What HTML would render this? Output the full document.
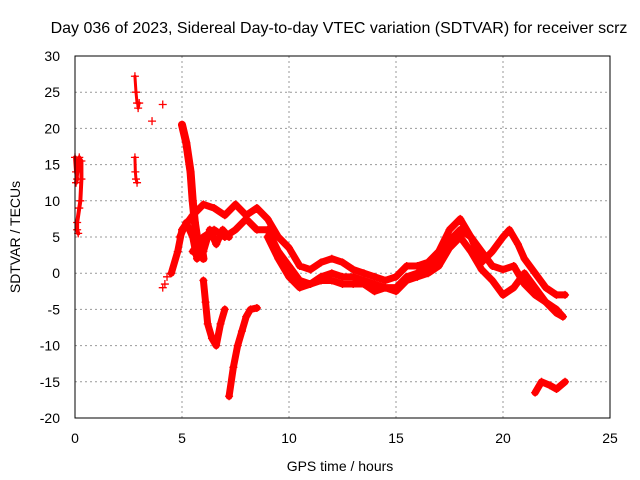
<!DOCTYPE html>
<html><head><meta charset="utf-8"><style>
body{margin:0;background:#fff;}
svg{display:block;font-family:"Liberation Sans",sans-serif;}
</style></head><body>
<svg id="chart" width="640" height="480">
<text x="339" y="33" text-anchor="middle" font-size="16">Day 036 of 2023, Sidereal Day-to-day VTEC variation (SDTVAR) for receiver scrz</text>
<text x="340" y="471" text-anchor="middle" font-size="14">GPS time / hours</text>
<text x="20" y="237" text-anchor="middle" font-size="14" transform="rotate(-90 20 237)">SDTVAR / TECUs</text>
<g id="grid"></g><g id="ticks"></g><g id="marks"></g>
<rect x="75" y="56" width="535" height="362" fill="none" stroke="#000"/>
</svg>
<script>
const xTicks=[0,5,10,15,20,25];
const yTicks=[30,25,20,15,10,5,0,-5,-10,-15,-20];
const clusterA=[[0,16],[0.05,14],[0.1,13],[0.05,12.5],[0.15,15],[0.2,16],[0.3,15.5],[0.3,13],[0.25,10],[0.2,9],[0.1,7],[0.1,6],[0.15,5.5]];
const clusterB=[[2.8,27.2],[2.85,25],[2.9,23.5],[3.0,23.5],[2.95,22.8]];
const clusterC=[[2.8,16],[2.82,14],[2.85,13],[2.9,12.5]];
const singles=[[3.6,21],[4.1,23.3],[4.1,-2],[4.2,-1.5],[4.3,-0.5]];
const band1=[[4.5,0],[4.8,3],[5,6],[5.5,8],[6,9.5],[6.5,9],[7,8],[7.5,9.5],[8,8],[8.5,9],[9,7.5],[9.5,5],[10,3.5],[10.5,1],[11,0.5],[11.5,1.5],[12,2],[12.5,1.5],[13,0.5],[13.5,0],[14,-0.5],[14.5,-1],[15,-0.5],[15.5,1],[16,1],[16.5,1.5],[17,3],[17.5,6],[18,7.5],[18.5,5],[19,1.5],[19.5,3],[20,5],[20.3,6],[20.7,4],[21,2],[21.5,0],[22,-2],[22.5,-3],[22.9,-3]];
const band2=[[5.5,3],[6,5],[6.5,6],[7,5],[7.5,6],[8,7.5],[8.5,6],[9,6],[9.5,3],[10,1],[10.5,-1],[11,-1.5],[11.5,-0.5],[12,0],[12.5,-0.5],[13,-0.5],[13.5,-1],[14,-1.5],[14.5,-2],[15,-2],[15.5,-0.5],[16,0],[16.5,1],[17,2],[17.5,4.5],[18,6],[18.5,5],[19,3],[19.5,1],[20,0.5],[20.5,1],[21,-1.5],[21.5,-3],[22,-4],[22.5,-5.5],[22.8,-6]];
const band3=[[9,5],[9.5,2],[10,-0.5],[10.5,-2],[11,-1.5],[11.5,-1],[12,-1],[12.5,-1.5],[13,-1.5],[13.5,-1.5],[14,-2.5],[14.5,-2],[15,-2.5],[15.5,-1],[16,-0.5],[16.5,0],[17,1],[17.5,3.5],[18,5],[18.5,3],[19,0.5],[19.5,-1],[20,-3],[20.5,-2],[21,0],[21.5,-2],[22,-4],[22.5,-5],[22.8,-6]];
const spike=[[5,20.5],[5.2,18],[5.4,14],[5.5,10],[5.6,7],[5.7,5],[5.8,3],[5.9,4],[6,2]];
const blob=[[4.9,5],[5.2,7],[5.5,5],[5.7,2],[6,3],[6.3,6],[6.6,4],[6.9,6],[7.2,5]];
const dip1=[[6,-1],[6.1,-4],[6.2,-7],[6.4,-9],[6.6,-10],[6.8,-7],[7,-5]];
const dip2=[[7.2,-17],[7.4,-13],[7.6,-10],[7.8,-8],[8,-6],[8.2,-5],[8.5,-4.8]];
const late=[[21.5,-16.5],[21.8,-15],[22.2,-15.5],[22.5,-16],[22.9,-15]];
const NS="http://www.w3.org/2000/svg";
const X=h=>75+h*535/25, Y=v=>56+(30-v)*362/50;
function mk(t,a,parent){const e=document.createElementNS(NS,t);for(const k in a)e.setAttribute(k,a[k]);parent.appendChild(e);return e;}
const grid=document.getElementById('grid'),ticks=document.getElementById('ticks'),marks=document.getElementById('marks');
xTicks.forEach(t=>{
 if(t>0&&t<25){const l=mk('line',{x1:X(t),x2:X(t),y1:56,y2:418,stroke:'#999','stroke-dasharray':'2,3'},grid);
 
 }
 const tx=mk('text',{x:X(t),y:443,'text-anchor':'middle','font-size':14},ticks);tx.textContent=t;
 
 
});
yTicks.forEach(t=>{
 if(t>-20&&t<30){const l=mk('line',{x1:75,x2:610,y1:Y(t),y2:Y(t),stroke:'#999','stroke-dasharray':'2,3'},grid);
 
 }
 const tx=mk('text',{x:60,y:Y(t)+5,'text-anchor':'end','font-size':14},ticks);tx.textContent=t;
 
 
});
function track(pts,name,w){
 if(w){const p=mk('polyline',{points:pts.map(q=>X(q[0])+','+Y(q[1])).join(' '),fill:'none',stroke:'#f00','stroke-width':w,'stroke-linejoin':'round','stroke-linecap':'round'},marks);
 
 }
 pts.forEach(q=>{const x=X(q[0]),y=Y(q[1]);
  const g=mk('path',{d:`M${x-4},${y}h8M${x},${y-4}v8`,stroke:'#f00','stroke-width':1.3},marks);
  
  });
}
track(clusterA,'cluster-a',4);track(clusterB,'cluster-b',3);track(clusterC,'cluster-c',3);track(singles,'singles',0);
track(band1,'band-1',7);track(band2,'band-2',7);track(band3,'band-3',7);
track(spike,'spike',8);track(blob,'blob',7);track(dip1,'dip-1',7);track(dip2,'dip-2',7);track(late,'late',7);
</script>
</body></html>
